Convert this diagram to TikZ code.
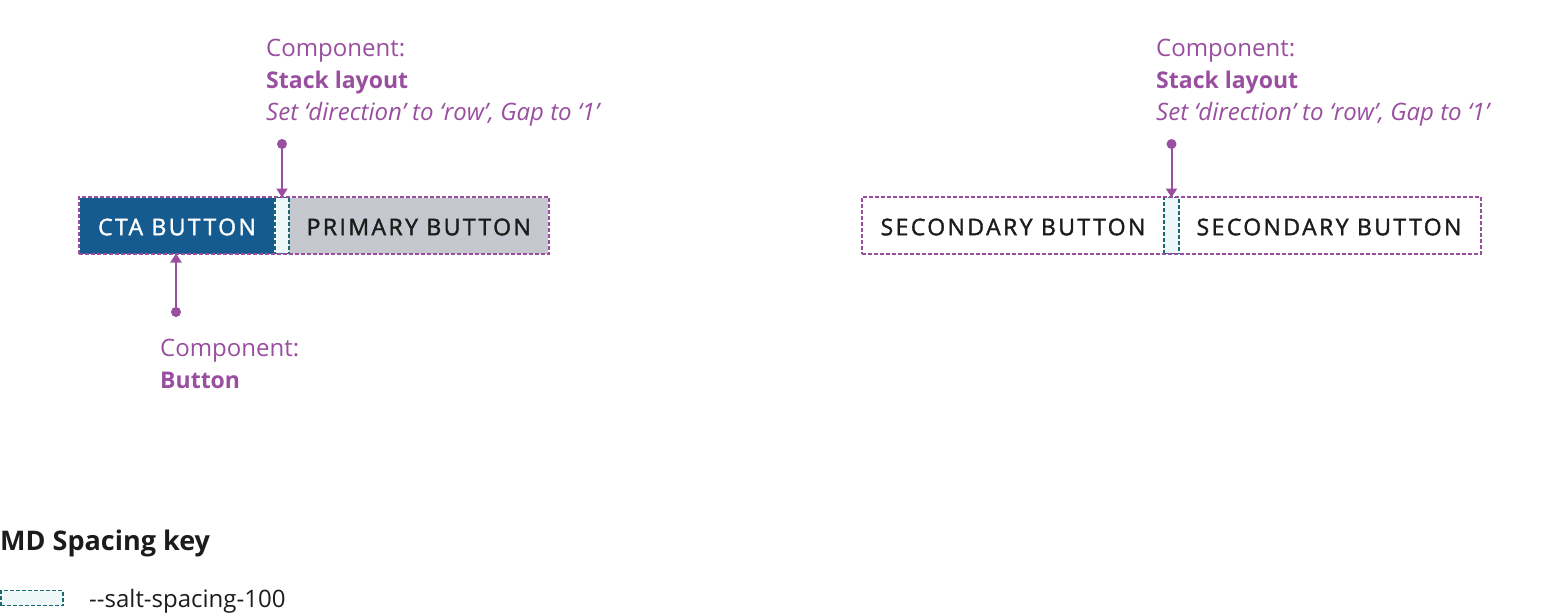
\documentclass[tikz,border=0pt]{standalone}
\usepackage{fontspec}
\setmainfont{Open Sans}
\newfontfamily\btnfont[LetterSpace=10.5,FakeBold=1.6]{Open Sans}
\usetikzlibrary{arrows.meta}
\definecolor{annot}{RGB}{153,78,160}
\definecolor{ctablue}{RGB}{21,91,143}
\definecolor{btngray}{RGB}{197,200,206}
\definecolor{teal}{RGB}{26,105,115}
\definecolor{gapfill}{RGB}{238,248,249}
\definecolor{ink}{RGB}{28,28,28}
\tikzset{
  box/.style={rectangle, inner sep=0pt, outer sep=0pt, minimum height=56pt},
  btntext/.style={font=\btnfont\fontsize{23}{26}\selectfont},
  stackbox/.style={box, draw=annot, line width=1.6pt, dash pattern=on 4pt off 2pt, minimum height=57pt},
  gapbox/.style={box, fill=gapfill, draw=teal, line width=1.6pt, dash pattern=on 4pt off 2pt},
  annotarrow/.style={draw=annot, line width=2pt, -{Triangle[width=11pt,length=9pt]}},
  annotdot/.style={fill=annot},
  annottext/.style={anchor=base west, inner sep=0pt, text=annot, font=\fontsize{24}{32}\selectfont},
  annotbold/.style={annottext, font=\bfseries\fontsize{23}{32}\selectfont},
}
\begin{document}
\begin{tikzpicture}[x=1pt,y=-1pt]
\useasboundingbox (0,0) rectangle (1560,614);
% left group
\node[box, fill=ctablue, minimum width=194pt] (cta) at (177,225.5) {};
\node[btntext, text=white, yshift=-1.5pt] (ctalabel) at (cta.center) {CTA BUTTON};
\node[box, fill=btngray, minimum width=259pt] (primary) at (418.75,225.5) {};
\node[btntext, text=ink, yshift=-1.5pt] (primarylabel) at (primary.center) {PRIMARY BUTTON};
\node[gapbox, minimum width=14pt] (gap1) at (282,225.5) {};
\node[stackbox, minimum width=470pt] (stack1) at (314,225.5) {};
% right group
\node[box, minimum width=300pt, btntext, text=ink, yshift=-1.5pt] (sec1) at (1013,225.5) {SECONDARY BUTTON};
\node[box, minimum width=300pt, btntext, text=ink, yshift=-1.5pt] (sec2) at (1329,225.5) {SECONDARY BUTTON};
\node[gapbox, minimum width=15pt] (gap2) at (1171.5,225.5) {};
\node[stackbox, minimum width=619pt] (stack2) at (1171.5,225.5) {};
% annotations
\node[annottext] (l1a) at (266,56.7) {Component:};
\node[annotbold] (l1b) at (266,88.3) {Stack layout};
\node[annottext, font=\itshape\fontsize{24}{32}\selectfont] (l1c) at (266,120) {Set ‘direction’ to ‘row’, Gap to ‘1’};
\node[annottext] (r1a) at (1156,56.7) {Component:};
\node[annotbold] (r1b) at (1156,88.3) {Stack layout};
\node[annottext, font=\itshape\fontsize{24}{32}\selectfont] (r1c) at (1156,120) {Set ‘direction’ to ‘row’, Gap to ‘1’};
\node[annottext] (b1a) at (160,356.7) {Component:};
\node[annotbold] (b1b) at (160,388.3) {Button};
% connectors
\coordinate (d1) at (282,144);
\coordinate (d2) at (1171.5,144);
\coordinate (d3) at (176,312);
\draw[annotarrow] (d1) -- (gap1.north);
\draw[annotarrow] (d2) -- (gap2.north);
\draw[annotarrow] (d3) -- (d3 |- cta.south);
\fill[annotdot] (d1) circle (5pt);
\fill[annotdot] (d2) circle (5pt);
\fill[annotdot] (d3) circle (5pt);
% key
\node[anchor=base west, inner sep=0pt, text=ink, font=\bfseries\fontsize{27}{30}\selectfont] (keytitle) at (0,550) {MD Spacing key};
\node[gapbox, minimum width=62pt, minimum height=15pt] (keybox) at (32,598) {};
\node[anchor=base west, inner sep=0pt, text=ink, font=\fontsize{24}{30}\selectfont] (keylabel) at (89,607) {-{}-salt-spacing-100};
\end{tikzpicture}
\end{document}
